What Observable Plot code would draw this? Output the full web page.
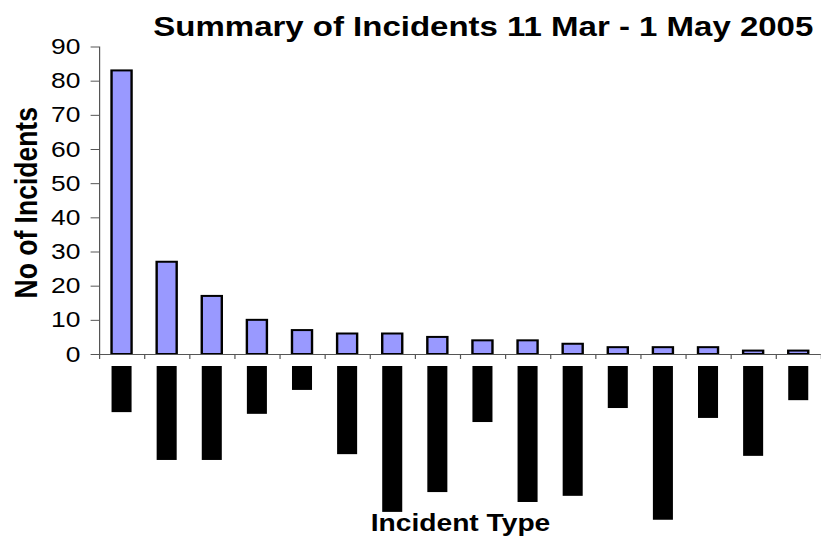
<!DOCTYPE html>
<html>
<head>
<meta charset="utf-8">
<script src="https://cdn.jsdelivr.net/npm/d3@7"></script>
<script src="https://cdn.jsdelivr.net/npm/@observablehq/plot@0.6"></script>
<style>
  html, body { margin: 0; padding: 0; background: #fff; }
  #chart { width: 821px; height: 540px; overflow: hidden; }
  #chart svg { display: block; transform: scaleX(1.2); transform-origin: 0 0; }
</style>
</head>
<body>
<div id="chart"></div>
<script>
// ---- data (category names are redacted in the source chart) ----
const categories = ["Type 1","Type 2","Type 3","Type 4","Type 5","Type 6","Type 7","Type 8",
                    "Type 9","Type 10","Type 11","Type 12","Type 13","Type 14","Type 15","Type 16"];
const incidents = [83, 27, 17, 10, 7, 6, 6, 5, 4, 4, 3, 2, 2, 2, 1, 1];
// length of each blacked-out category label, in chart units
const redactedLabelLengths = [13.5, 27.5, 27.5, 14, 7, 25.8, 42.7, 36.9, 16.4, 39.8, 38, 12.3, 45, 15.2, 26.3, 10];
const yTicks = [0, 10, 20, 30, 40, 50, 60, 70, 80, 90];
const titleText = "Summary of Incidents 11 Mar - 1 May 2005";
const xLabel = "Incident Type";
const yLabel = "No of Incidents";

// ---- layout ----
const W = 684, H = 540;
const mL = 82.5, mR = 0, mT = 46.5, mB = 186;
const step = (W - mL - mR) / categories.length;
const pxPerUnit = (H - mT - mB) / 90;
const tickLen = 5 / pxPerUnit;

const data = categories.map((c, i) => ({category: c, count: incidents[i], label: redactedLabelLengths[i]}));
const lastCat = [categories[categories.length - 1]];
const firstCat = [categories[0]];

const chart = Plot.plot({
  width: W, height: H,
  marginLeft: mL, marginRight: mR, marginTop: mT, marginBottom: mB,
  style: {fontFamily: "'Liberation Sans', Arial, sans-serif", background: "white", overflow: "visible", color: "black"},
  x: {domain: categories, paddingInner: 0.556, paddingOuter: 0.278, round: false, axis: null},
  y: {domain: [0, 90], axis: null},
  marks: [
    Plot.barY(data, {x: "category", y: "count", fill: "#9999FF", stroke: "#000", strokeWidth: 2}),
    Plot.barY(data, {x: "category", y1: 0, y2: d => -d.label, fill: "#000", dy: 12}),
    Plot.ruleY([0], {stroke: "#555", strokeWidth: 1.2}),
    Plot.ruleX(categories, {x: d => d, dx: -step / 2, y1: 0, y2: -tickLen, stroke: "#555"}),
    Plot.ruleX(lastCat, {x: d => d, dx: step / 2, y1: 0, y2: -tickLen, stroke: "#555"}),
    Plot.ruleX(firstCat, {x: d => d, dx: -step / 2, y1: 0, y2: 90, stroke: "#555"}),
    Plot.axisY({ticks: yTicks, tickSize: 7, tickPadding: 9, fontSize: 22, tickFormat: d => d, label: null, stroke: "#555", fill: "#000"}),
    Plot.text([titleText], {frameAnchor: "top", dx: 19, dy: -19.5, lineAnchor: "middle", fontSize: 27.5, fontWeight: "bold", fill: "#000"}),
    Plot.text([yLabel], {frameAnchor: "left", textAnchor: "middle", lineAnchor: "middle", dx: -61, dy: 2, rotate: -90, fontSize: 26.5, fontWeight: "bold", fill: "#000"}),
    Plot.text([xLabel], {frameAnchor: "bottom", lineAnchor: "middle", dy: 169, fontSize: 23.5, fontWeight: "bold", fill: "#000"})
  ]
});
document.getElementById("chart").appendChild(chart);
</script>
</body>
</html>
